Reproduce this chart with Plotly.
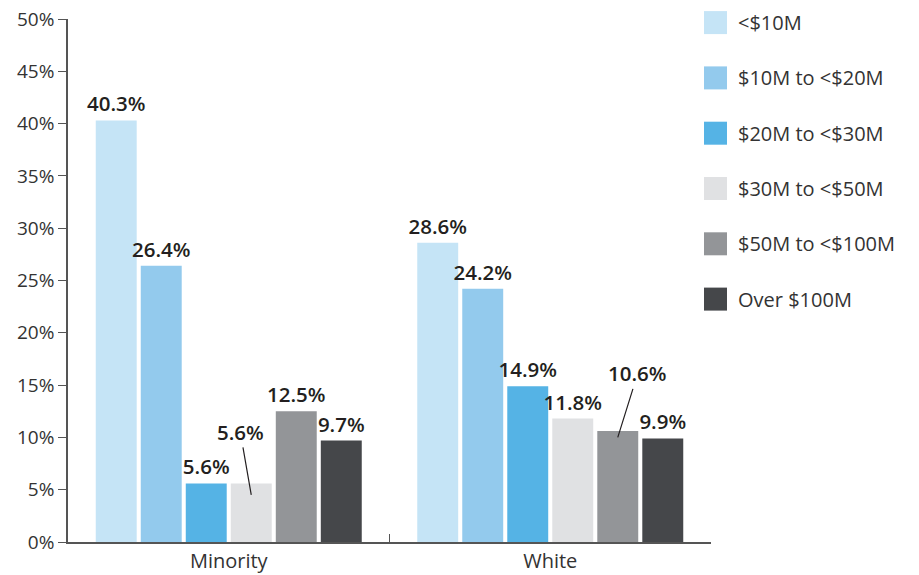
import plotly.graph_objects as go

# Share of firms by size band, per ownership group (percent)
groups = ["Minority", "White"]
bands = ["<$10M", "$10M to <$20M", "$20M to <$30M", "$30M to <$50M",
         "$50M to <$100M", "Over $100M"]
minority = [40.3, 26.4, 5.6, 5.6, 12.5, 9.7]
white = [28.6, 24.2, 14.9, 11.8, 10.6, 9.9]
colors = ["#C5E4F6", "#93CAED", "#55B3E5", "#E0E1E3", "#939598", "#45474A"]
y_ticks = [0, 5, 10, 15, 20, 25, 30, 35, 40, 45, 50]

# labels drawn with a leader line instead of directly above the bar
callouts = {(0, 3): (-11, -63, 4.5), (1, 4): (20, -64, 10.0)}

FONT = "Open Sans"
TXT = "#231F20"
LBL = "#333333"
BARGAP = 0.16

W, H = 919, 575
L, R, T, B = 68, 208, 19, 33
pw, ph = W - L - R, H - T - B

fig = go.Figure()
for i, band in enumerate(bands):
    vals = [minority[i], white[i]]
    texts = ["" if (g, i) in callouts else f"{v:.1f}%" for g, v in enumerate(vals)]
    fig.add_trace(go.Bar(
        x=groups, y=vals, name=band, marker_color=colors[i], marker_line_width=0,
        text=texts, textposition="outside", constraintext="none", cliponaxis=False,
        textfont=dict(family=FONT, size=20.5, color=TXT, weight=600),
        showlegend=False,
    ))

# leader-line labels
slot = (1 - BARGAP) / len(bands)
for (g, i), (ax, ay, yh) in callouts.items():
    val = [minority, white][g][i]
    xc = g - (1 - BARGAP) / 2 + slot * (i + 0.5)
    fig.add_annotation(x=xc, y=yh, xref="x", yref="y", text=f"{val:.1f}%",
                       showarrow=True, arrowhead=0, arrowwidth=1.2, arrowcolor=TXT,
                       ax=ax, ay=ay, standoff=0,
                       font=dict(family=FONT, size=20.5, color=TXT, weight=600))

# legend: large square swatches with labels
sq = 23
for i, band in enumerate(bands):
    cy = 22.6 + i * 55.3
    x0 = (704 - L) / pw
    x1 = (704 + sq - L) / pw
    y0 = 1 - (cy + sq / 2 - T) / ph
    y1 = 1 - (cy - sq / 2 - T) / ph
    fig.add_shape(type="rect", xref="paper", yref="paper", x0=x0, x1=x1, y0=y0, y1=y1,
                  fillcolor=colors[i], line_width=0)
    fig.add_annotation(xref="paper", yref="paper", x=(736 - L) / pw,
                       y=1 - (cy - T) / ph, xanchor="left", yanchor="middle",
                       text=band, showarrow=False,
                       font=dict(family=FONT, size=20, color=LBL))

fig.update_layout(
    width=W, height=H, margin=dict(l=L, r=R, t=T, b=B, autoexpand=False),
    paper_bgcolor="white", plot_bgcolor="white",
    barmode="group", bargap=BARGAP, bargroupgap=0.09,
    font=dict(family=FONT, color=LBL),
)
fig.update_yaxes(range=[0, 50], tickvals=y_ticks, ticktext=[f"{v}%" for v in y_ticks],
                 automargin=False,
                 showgrid=False, zeroline=False, showline=True, linecolor="#555555",
                 linewidth=1.5, ticks="outside", ticklen=8, tickcolor="#555555",
                 tickwidth=1.2, tickfont=dict(family=FONT, size=19, color=LBL))
fig.update_xaxes(showgrid=False, showline=True, linecolor="#555555", linewidth=1.5,
                 automargin=False,
                 ticks="inside", tickson="boundaries", ticklen=8, tickcolor="#555555",
                 tickwidth=1.2, range=[-0.5, 1.5],
                 tickfont=dict(family=FONT, size=20, color=LBL))

fig.write_html("out.html")
